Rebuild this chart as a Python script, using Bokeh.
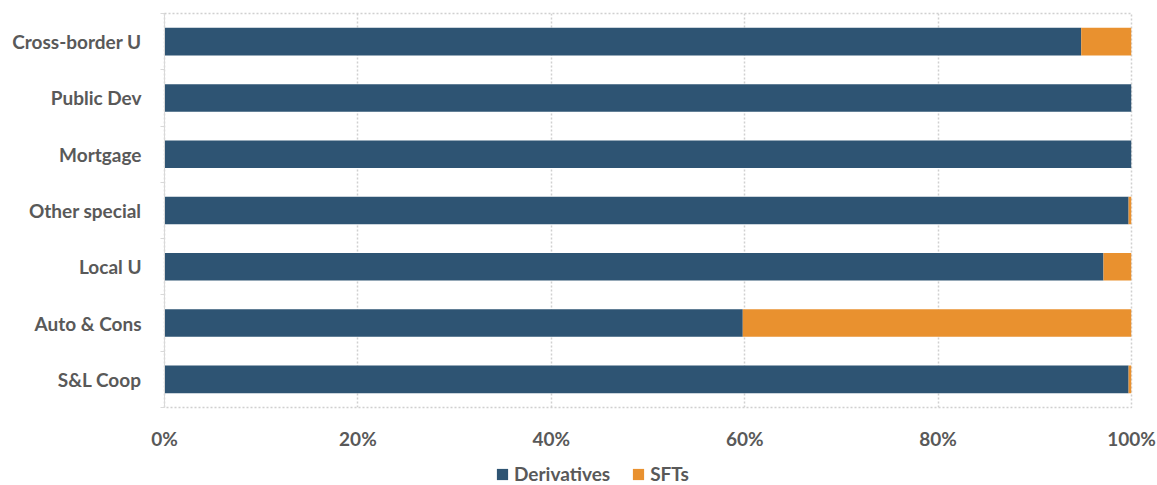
from bokeh.plotting import figure
from bokeh.layouts import column
from bokeh.models import (FixedTicker, Legend, LegendItem, ColumnDataSource, Range1d)
from bokeh.embed import file_html
from bokeh.resources import INLINE

# ---- data (top to bottom as shown) ----
categories = ["Cross-border U", "Public Dev", "Mortgage", "Other special",
              "Local U", "Auto & Cons", "S&L Coop"]
derivatives = [94.8, 100.0, 100.0, 99.7, 97.1, 59.8, 99.7]
sfts = [5.2, 0.0, 0.0, 0.3, 2.9, 40.2, 0.3]
x_ticks = [0, 20, 40, 60, 80, 100]
x_tick_labels = ["0%", "20%", "40%", "60%", "80%", "100%"]
series = ["Derivatives", "SFTs"]
colors = ["#2E5473", "#E9912F"]

n = len(categories)
ypos = [n - 1 - i for i in range(n)]
src = ColumnDataSource(dict(y=ypos, cat=categories,
                            Derivatives=derivatives, SFTs=sfts))

TEXT = "#595959"
FONT = "Lato"
FS = "19px"

p = figure(width=1157, height=455, output_backend="svg", toolbar_location=None,
           x_range=Range1d(0, 100), y_range=Range1d(-0.5, n - 0.5),
           min_border_left=164, min_border_right=26, min_border_top=13,
           min_border_bottom=48)

rs = p.hbar_stack(series, y="y", height=0.49, color=colors, source=src,
                  line_color=None)

# axes
p.xaxis.ticker = FixedTicker(ticks=x_ticks)
p.xaxis.major_label_overrides = {t: l for t, l in zip(x_ticks, x_tick_labels)}
p.xaxis.major_tick_line_color = None
p.xaxis.minor_tick_line_color = None
p.xaxis.axis_line_color = None
p.xaxis.major_tick_out = 0
p.xaxis.major_label_standoff = 19
p.xaxis.major_label_text_font = FONT
p.xaxis.major_label_text_font_style = "bold"
p.xaxis.major_label_text_font_size = FS
p.xaxis.major_label_text_color = TEXT

p.yaxis.ticker = FixedTicker(ticks=ypos, minor_ticks=[k - 0.5 for k in range(n + 1)])
p.yaxis.major_label_overrides = {y: c for y, c in zip(ypos, categories)}
p.yaxis.major_tick_line_color = None
p.yaxis.minor_tick_line_color = "#D9D9D9"
p.yaxis.minor_tick_out = 4
p.yaxis.minor_tick_in = 0
p.yaxis.major_tick_out = 0
p.yaxis.major_tick_in = 0
p.yaxis.axis_line_color = "#D9D9D9"
p.yaxis.major_label_standoff = 19
p.yaxis.major_label_text_font = FONT
p.yaxis.major_label_text_font_style = "bold"
p.yaxis.major_label_text_font_size = FS
p.yaxis.major_label_text_color = TEXT

# grid
p.ygrid.grid_line_color = None
p.xgrid.ticker = FixedTicker(ticks=x_ticks)
p.xgrid.grid_line_color = "#D0D0D0"
p.xgrid.grid_line_dash = "2 2"
p.xgrid.grid_line_width = 1.5

p.outline_line_color = "#D0D0D0"
p.outline_line_dash = "2 2"
p.outline_line_width = 1.5
p.background_fill_color = "white"
p.border_fill_color = "white"

# ---- legend strip below (same data, bars kept out of view) ----
lg = figure(width=1157, height=30, output_backend="svg", toolbar_location=None,
            x_range=Range1d(0, 100), y_range=Range1d(100, 101),
            x_axis_location=None, y_axis_location=None,
            min_border_left=164, min_border_right=26, min_border_top=0,
            min_border_bottom=0)
lg.grid.grid_line_color = None
lg.outline_line_color = None
lrs = lg.hbar_stack(series, y="y", height=0.49, color=colors, source=src,
                    line_color=None)
legend = Legend(items=[LegendItem(label=s, renderers=[r]) for s, r in zip(series, lrs)],
                orientation="horizontal", location=(331, 0),
                padding=0, margin=0, spacing=21, label_standoff=5,
                glyph_width=14, glyph_height=14, label_height=19,
                label_text_font=FONT, label_text_font_style="bold",
                label_text_font_size=FS, label_text_color=TEXT,
                border_line_color=None, background_fill_alpha=0)
lg.add_layout(legend, "center")

layout = column(p, lg, spacing=0)
open("out.html", "w").write(file_html(layout, INLINE))
